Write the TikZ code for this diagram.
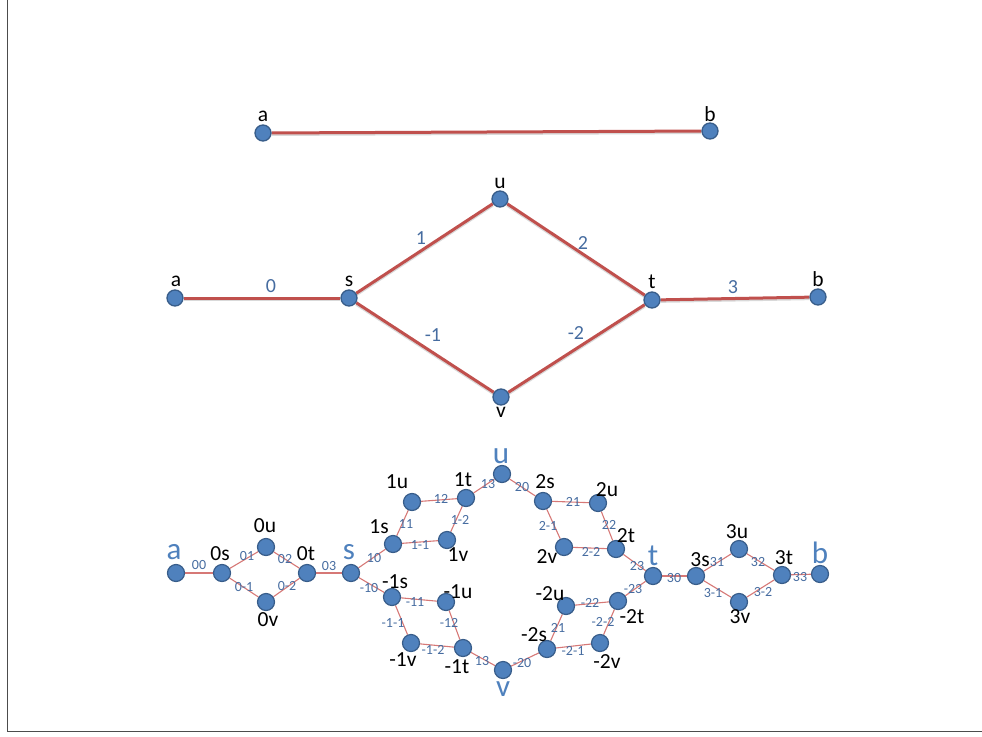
\documentclass[tikz,border=0pt]{standalone}
\usepackage{fontspec}
\setmainfont{Carlito}
\usetikzlibrary{backgrounds}
\definecolor{vfill}{RGB}{79,129,189}
\definecolor{vline}{RGB}{56,93,138}
\definecolor{ered}{RGB}{192,80,77}
\definecolor{ethin}{RGB}{214,120,118}
\definecolor{lblue}{RGB}{70,108,160}
\definecolor{bigblue}{RGB}{79,129,189}
\tikzset{
  vtx/.style={circle,fill=vfill,draw=vline,line width=1.3pt,minimum size=16pt,inner sep=0pt},
  vtxs/.style={circle,fill=vfill,draw=vline,line width=1.2pt,minimum size=17pt,inner sep=0pt},
  nlab/.style={inner sep=0pt,font=\fontsize{21.5}{23}\selectfont,text=black},
  blab/.style={inner sep=0pt,font=\fontsize{31}{33}\selectfont,text=bigblue},
  elab/.style={inner sep=0pt,font=\fontsize{20}{22}\selectfont,text=lblue},
  slab/.style={inner sep=0pt,font=\fontsize{14}{16}\selectfont,text=lblue},
  thick edge/.style={draw=ered,line width=3pt},
  edge shadow/.style={draw=black!15,line width=3pt,transform canvas={yshift=-1.5pt}},
  thin edge/.style={draw=ethin,line width=1.1pt},
}
\newcommand\elab[3]{\node[slab] (#1) at (#2) {#3};}
\begin{document}
\begin{tikzpicture}[x=1pt,y=-1pt]
\useasboundingbox (0,0) rectangle (982,736);
% page frame (left and bottom edges)
\draw[black!70,line width=1pt] (7,0) coordinate (fr1) -- (7,731) coordinate (fr2) -- (982,731) coordinate (fr3);

% ---------- single edge a--b ----------
\node[vtx] (ta) at (263,133) {};
\node[vtx] (tb) at (710,131) {};
\node[nlab] (tal) at (263,116) {a};
\node[nlab] (tbl) at (710,114) {b};

% ---------- diamond gadget ----------
\node[vtx] (ma) at (175,298) {};
\node[vtx] (ms) at (349,298) {};
\node[vtx] (mu) at (500,199) {};
\node[vtx] (mt) at (652,300) {};
\node[vtx] (mv) at (501,397) {};
\node[vtx] (mb) at (818,297) {};
\node[nlab] (mal) at (176,281) {a};
\node[nlab] (msl) at (349,281) {s};
\node[nlab] (mul) at (500,183) {u};
\node[nlab] (mtl) at (652,282) {t};
\node[nlab] (mvl) at (501,412) {v};
\node[nlab] (mbl) at (818,279) {b};
\node[elab] (m0) at (271,286) {0};
\node[elab] (m1) at (421,238) {1};
\node[elab] (m2) at (583,243) {2};
\node[elab] (mm1) at (433,335) {-1};
\node[elab] (mm2) at (576,333) {-2};
\node[elab] (m3) at (733,287) {3};

% ---------- expanded graph ----------
\node[vtxs] (a) at (176,573) {};
\node[vtxs] (s) at (351,573) {};
\node[vtxs] (u) at (502,474) {};
\node[vtxs] (v) at (503,670) {};
\node[vtxs] (t) at (653,576) {};
\node[vtxs] (b) at (820,574) {};
% block 0
\node[vtxs] (s0) at (222,573) {};
\node[vtxs] (u0) at (266,547) {};
\node[vtxs] (t0) at (307,573) {};
\node[vtxs] (v0) at (266,602) {};
% block 1
\node[vtxs] (s1) at (393,544) {};
\node[vtxs] (u1) at (412,502) {};
\node[vtxs] (t1) at (466,498) {};
\node[vtxs] (v1) at (447,540) {};
% block -1
\node[vtxs] (sm1) at (392,597) {};
\node[vtxs] (um1) at (446,602) {};
\node[vtxs] (vm1) at (411,643) {};
\node[vtxs] (tm1) at (463,648) {};
% block 2
\node[vtxs] (s2) at (543,501) {};
\node[vtxs] (u2) at (598,503) {};
\node[vtxs] (v2) at (564,547) {};
\node[vtxs] (t2) at (616,549) {};
% block -2
\node[vtxs] (um2) at (566,606) {};
\node[vtxs] (tm2) at (618,601) {};
\node[vtxs] (sm2) at (547,649) {};
\node[vtxs] (vm2) at (600,643) {};
% block 3
\node[vtxs] (s3) at (696,576) {};
\node[vtxs] (u3) at (739,549) {};
\node[vtxs] (t3) at (782,575) {};
\node[vtxs] (v3) at (739,602) {};

% connectors, kept below the vertices
\begin{pgfonlayer}{background}
\draw[edge shadow] (ta) -- (tb);
\draw[thick edge] (ta) -- (tb);
\foreach \p/\q in {ma/ms,ms/mu,mu/mt,ms/mv,mv/mt,mt/mb}
  \draw[edge shadow] (\p) -- (\q);
\foreach \p/\q in {ma/ms,ms/mu,mu/mt,ms/mv,mv/mt,mt/mb}
  \draw[thick edge] (\p) -- (\q);
\foreach \p/\q in {a/s0,s0/u0,u0/t0,s0/v0,v0/t0,t0/s,
                   s/s1,s1/u1,u1/t1,t1/u,s1/v1,v1/t1,
                   s/sm1,sm1/um1,um1/tm1,tm1/v,sm1/vm1,vm1/tm1,
                   u/s2,s2/u2,u2/t2,t2/t,s2/v2,v2/t2,
                   v/sm2,sm2/um2,um2/tm2,tm2/t,sm2/vm2,vm2/tm2,
                   t/s3,s3/u3,u3/t3,t3/b,s3/v3,v3/t3}
  \draw[thin edge] (\p) -- (\q);
\end{pgfonlayer}

% big vertex names
\node[blab] (al) at (174,552) {a};
\node[blab] (sl) at (349,552) {s};
\node[blab] (ul) at (501,456) {u};
\node[blab] (vl) at (503,689) {v};
\node[blab] (tl) at (653,556) {t};
\node[blab] (bl) at (820,553) {b};
% copy names
\node[nlab] (s0l) at (220,554) {0s};
\node[nlab] (u0l) at (265,526) {0u};
\node[nlab] (t0l) at (306,554) {0t};
\node[nlab] (v0l) at (268,620) {0v};
\node[nlab] (s1l) at (379,527) {1s};
\node[nlab] (u1l) at (397,482) {1u};
\node[nlab] (t1l) at (463,480) {1t};
\node[nlab] (v1l) at (458,555) {1v};
\node[nlab] (sm1l) at (395,582) {-1s};
\node[nlab] (um1l) at (458,592) {-1u};
\node[nlab] (vm1l) at (403,660) {-1v};
\node[nlab] (tm1l) at (457,667) {-1t};
\node[nlab] (s2l) at (545,482) {2s};
\node[nlab] (u2l) at (607,490) {2u};
\node[nlab] (v2l) at (547,557) {2v};
\node[nlab] (t2l) at (626,536) {2t};
\node[nlab] (um2l) at (550,594) {-2u};
\node[nlab] (tm2l) at (632,617) {-2t};
\node[nlab] (sm2l) at (534,635) {-2s};
\node[nlab] (vm2l) at (607,662) {-2v};
\node[nlab] (s3l) at (700,560) {3s};
\node[nlab] (u3l) at (737,532) {3u};
\node[nlab] (t3l) at (784,558) {3t};
\node[nlab] (v3l) at (740,617) {3v};
% connector names
\elab{e00}{199,565}{00}
\elab{e01}{247,556}{01}
\elab{e02}{285,559}{02}
\elab{e0m1}{244,587}{0-1}
\elab{e0m2}{287,586}{0-2}
\elab{e03}{329,566}{03}
\elab{e10}{374,558}{10}
\elab{e11}{406,524}{11}
\elab{e12}{441,499}{12}
\elab{e13}{488,484}{13}
\elab{e1m1}{420,545}{1-1}
\elab{e1m2}{460,520}{1-2}
\elab{em10}{369,588}{-10}
\elab{em11}{415,602}{-11}
\elab{em12}{449,623}{-12}
\elab{em1m1}{393,623}{-1-1}
\elab{em1m2}{433,650}{-1-2}
\elab{em13}{482,661}{13}
\elab{e20}{522,487}{20}
\elab{e21}{573,502}{21}
\elab{e22}{609,525}{22}
\elab{e23}{637,566}{23}
\elab{e2m1}{548,526}{2-1}
\elab{e2m2}{591,552}{2-2}
\elab{em20}{522,663}{-20}
\elab{em21}{558,628}{21}
\elab{em22}{590,603}{-22}
\elab{em23}{633,589}{-23}
\elab{em2m1}{573,651}{-2-1}
\elab{em2m2}{603,622}{-2-2}
\elab{e30}{674,578}{30}
\elab{e31}{717,562}{31}
\elab{e32}{758,562}{32}
\elab{e33}{800,577}{33}
\elab{e3m1}{713,593}{3-1}
\elab{e3m2}{763,592}{3-2}
\end{tikzpicture}
\end{document}
